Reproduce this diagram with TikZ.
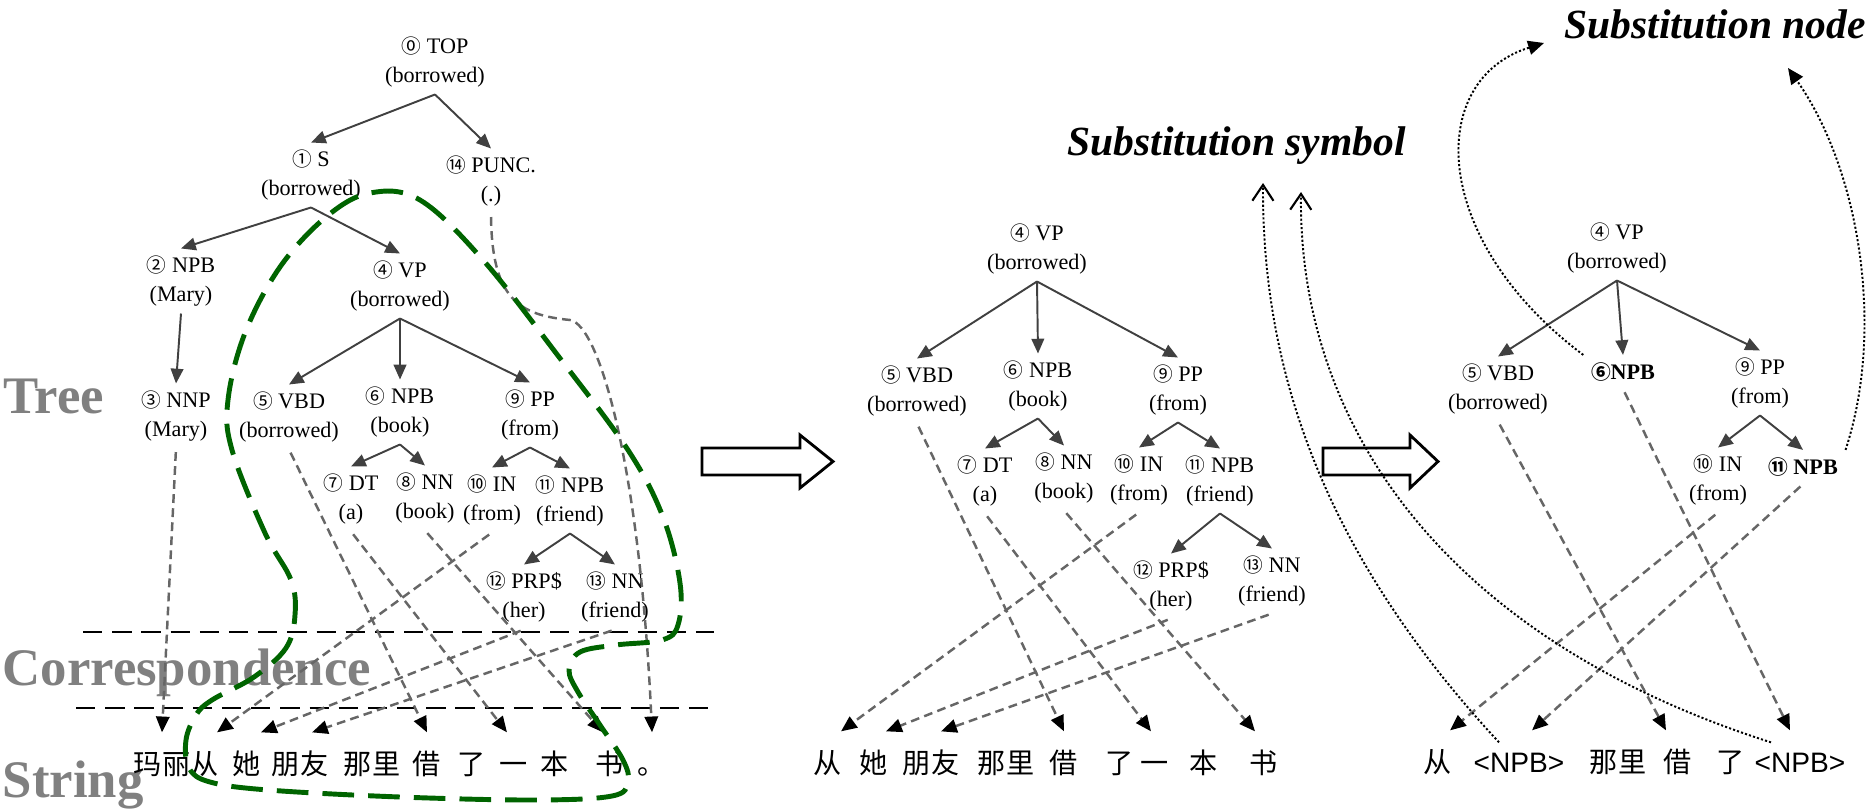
\documentclass[tikz,border=0pt]{standalone}
\usepackage{fontspec}
\setmainfont{Liberation Serif}
\newfontfamily\cjkfont{Noto Sans CJK SC}
\newfontfamily\symfont{Liberation Sans}
\usepackage{xcolor}
\usepackage{tikz}
\usetikzlibrary{arrows.meta}
\definecolor{blobgreen}{RGB}{0,100,0}
\definecolor{labelgray}{RGB}{128,128,128}
\newcommand{\cn}[1]{{\cjkfont\fontsize{5.6}{8}\selectfont #1}}

\tikzstyle{tnode} = [font=\fontsize{6.3}{8}\selectfont, align=center, inner sep=2pt]
\tikzstyle{word} = [font=\cjkfont\fontsize{8}{8}\selectfont, inner xsep=0pt, inner ysep=5.15pt, text height=6.5pt, text depth=0.8pt]
\tikzstyle{branch} = [draw=black!75, line width=0.55pt, -{Triangle[length=4.2pt,width=3.6pt]}]
\tikzstyle{link} = [draw=black!60, line width=0.7pt, dash pattern=on 2.5pt off 1.5pt, shorten <=1pt, -{Triangle[length=4.5pt,width=3.8pt,color=black,fill=black]}]
\tikzstyle{subst} = [line width=0.55pt, dash pattern=on 0.6pt off 0.6pt]
\tikzstyle{rowlabel} = [font=\fontsize{15}{15}\selectfont\bfseries, text=labelgray, anchor=base west, inner sep=0pt]
\tikzstyle{callout} = [font=\fontsize{11.8}{12}\selectfont\bfseries\itshape, anchor=base west, inner sep=0pt]

\begin{document}
\begin{tikzpicture}[x=0.01cm, y=-0.01cm]
\useasboundingbox (0,0) rectangle (1876,809);

% Row labels
\node[rowlabel] (ltree) at (3,413) {Tree};
\node[rowlabel] (lcorr) at (2,685) {Correspondence};
\node[rowlabel] (lstring) at (2,797) {String};
\draw[line width=0.7pt, dash pattern=on 5.5pt off 2.8pt] (83,632) -- (714,632);
\draw[line width=0.7pt, dash pattern=on 5.5pt off 2.8pt] (76,708) -- (714,708);

% Left tree
\node[tnode] (top) at (435,62) {\cn{⓪} TOP\\(borrowed)};
\node[tnode] (s) at (311,175) {\cn{①} S\\(borrowed)};
\node[tnode] (punc) at (491,181) {\cn{⑭} PUNC.\\(.)};
\node[tnode] (npbA) at (181,281) {\cn{②} NPB\\(Mary)};
\node[tnode] (vpA) at (400,286) {\cn{④} VP\\(borrowed)};
\node[tnode] (nnp) at (176,416) {\cn{③} NNP\\(Mary)};
\node[tnode] (vbdA) at (289,417) {\cn{⑤} VBD\\(borrowed)};
\node[tnode] (npbB) at (400,412) {\cn{⑥} NPB\\(book)};
\node[tnode] (ppA) at (530,415) {\cn{⑨} PP\\(from)};
\node[tnode] (dtA) at (351,499) {\cn{⑦} DT\\(a)};
\node[tnode] (nnA) at (425,498) {\cn{⑧} NN\\(book)};
\node[tnode] (inA) at (492,500) {\cn{⑩} IN\\(from)};
\node[tnode] (npbC) at (570,501) {\cn{⑪} NPB\\(friend)};
\node[tnode] (prpA) at (524,597) {\cn{⑫} PRP\$\\(her)};
\node[tnode] (nnB) at (615,597) {\cn{⑬} NN\\(friend)};

\foreach \p/\c in {top/s, top/punc, s/npbA, s/vpA, npbA/nnp, vpA/vbdA, vpA/npbB, vpA/ppA,
                   npbB/dtA, npbB/nnA, ppA/inA, ppA/npbC, npbC/prpA, npbC/nnB}
  \draw[branch] (\p.south) -- (\c.north);

% Left string
\node[word] (lml) at (162,764) {玛丽};
\node[word] (lcong) at (205,764) {从};
\node[word] (lta) at (247,764) {她};
\node[word] (lpy) at (300,764) {朋友};
\node[word] (lnl) at (372,764) {那里};
\node[word] (ljie) at (427,764) {借};
\node[word] (lle) at (472,764) {了};
\node[word] (lyi) at (514,764) {一};
\node[word] (lben) at (555,764) {本};
\node[word] (lshu) at (610,764) {书};
\node[word] (ldot) at (652,764) {。};

\draw[link] (nnp.south) -- (lml.north);
\draw[link] (vbdA.south) -- (ljie.north);
\draw[link] (dtA.south) -- ([xshift=-0.07cm]lyi.north);
\draw[link] (nnA.south) -- ([xshift=-0.07cm]lshu.north);
\draw[link] (inA.south) -- ([xshift=0.12cm]lcong.north);
\draw[link] (prpA.south) -- ([xshift=0.14cm]lta.north);
\draw[link] (nnB.south) -- ([xshift=0.12cm]lpy.north);
\draw[link] (punc.south) .. controls (492,300) and (520,315) .. (570,320)
            .. controls (600,325) and (640,470) .. (ldot.north);

% Extracted rule region
\draw[blobgreen, line width=1.4pt, dash pattern=on 9pt off 4pt]
  plot[smooth cycle, tension=0.6] coordinates {
  (370,193) (420,200) (483,260) (559,357) (628,450) (663,517) (680,583) (678,625)
  (662,640) (616,645) (580,652) (569,670) (578,692) (600,725) (623,760) (628,782)
  (612,796) (536,800) (400,797) (268,790) (210,782) (189,768) (186,740) (196,715)
  (212,700) (254,677) (286,648) (295,615) (291,580) (265,533) (232,450) (228,400)
  (245,333) (280,267) (326,217)};

% Hollow arrows
\foreach \x/\b/\h in {702/98/131, 1323/87/115}
  \draw[line width=0.8pt, fill=white] (\x,448) -- ({\x+\b},448) -- ({\x+\b},435) -- ({\x+\h},461.5)
    -- ({\x+\b},488) -- ({\x+\b},475) -- (\x,475) -- cycle;

% Middle tree
\node[tnode] (mvp) at (1037,249) {\cn{④} VP\\(borrowed)};
\node[tnode] (mvbd) at (917,391) {\cn{⑤} VBD\\(borrowed)};
\node[tnode] (mnpb) at (1038,386) {\cn{⑥} NPB\\(book)};
\node[tnode] (mpp) at (1178,390) {\cn{⑨} PP\\(from)};
\node[tnode] (mdt) at (985,481) {\cn{⑦} DT\\(a)};
\node[tnode] (mnn) at (1064,478) {\cn{⑧} NN\\(book)};
\node[tnode] (min) at (1139,480) {\cn{⑩} IN\\(from)};
\node[tnode] (mnpb2) at (1220,481) {\cn{⑪} NPB\\(friend)};
\node[tnode] (mprp) at (1171,586) {\cn{⑫} PRP\$\\(her)};
\node[tnode] (mnn2) at (1272,581) {\cn{⑬} NN\\(friend)};

\foreach \p/\c in {mvp/mvbd, mvp/mnpb, mvp/mpp, mnpb/mdt, mnpb/mnn, mpp/min, mpp/mnpb2,
                   mnpb2/mprp, mnpb2/mnn2}
  \draw[branch] (\p.south) -- (\c.north);

\node[word] (mcong) at (828,763) {从};
\node[word] (mta) at (874,763) {她};
\node[word] (mpy) at (931,763) {朋友};
\node[word] (mnl) at (1006,763) {那里};
\node[word] (mjie) at (1064,763) {借};
\node[word] (mle) at (1120,763) {了};
\node[word] (myi) at (1155,763) {一};
\node[word] (mben) at (1204,763) {本};
\node[word] (mshu) at (1264,763) {书};

\draw[link] (mvbd.south) -- (mjie.north);
\draw[link] (mdt.south) -- ([xshift=-0.04cm]myi.north);
\draw[link] (mnn.south) -- ([xshift=-0.09cm]mshu.north);
\draw[link] (min.south) -- ([xshift=0.13cm]mcong.north);
\draw[link] (mprp.south) -- ([xshift=0.12cm]mta.north);
\draw[link] (mnn2.south) -- ([xshift=0.10cm]mpy.north);

% Right tree
\node[tnode] (rvp) at (1617,248) {\cn{④} VP\\(borrowed)};
\node[tnode] (rvbd) at (1498,389) {\cn{⑤} VBD\\(borrowed)};
\node[tnode] (rnpb) at (1623,372) {\textbf{\cn{⑥}NPB}};
\node[tnode] (rpp) at (1760,383) {\cn{⑨} PP\\(from)};
\node[tnode] (rin) at (1718,480) {\cn{⑩} IN\\(from)};
\node[tnode] (rnpb2) at (1803,467) {\textbf{\cn{⑪} NPB}};

\foreach \p/\c in {rvp/rvbd, rvp/rnpb, rvp/rpp, rpp/rin, rpp/rnpb2}
  \draw[branch] (\p.south) -- (\c.north);

\node[word] (rcong) at (1438,762) {从};
\node[word] (rnpbA) at (1519,762) {\symfont <NPB>};
\node[word] (rnl) at (1618,762) {那里};
\node[word] (rjie) at (1678,762) {借};
\node[word] (rle) at (1731,762) {了};
\node[word] (rnpbB) at (1800,762) {\symfont <NPB>};

\draw[link] (rvbd.south) -- ([xshift=-0.12cm]rjie.north);
\draw[link] (rnpb.south) -- ([xshift=-0.10cm]rnpbB.north);
\draw[link] (rin.south) -- ([xshift=0.12cm]rcong.north);
\draw[link] (rnpb2.south) -- ([xshift=0.13cm]rnpbA.north);

% Callouts
\node[callout] (subsym) at (1067,155) {Substitution symbol};
\node[callout] (subnode) at (1564,38) {Substitution node};
\coordinate (symtipA) at (1263,183);
\coordinate (symtipB) at (1301,192);
\coordinate (nodetipA) at (1544,43);
\coordinate (nodetipB) at (1788,68);

\draw[subst, -{Straight Barb[length=4.5pt,width=6pt,line width=0.6pt]}]
  ([xshift=-0.2cm,yshift=-0.12cm]rnpbA.north) .. controls (1330,560) and (1262,380) .. (symtipA);
\draw[subst, -{Straight Barb[length=4.5pt,width=6pt,line width=0.6pt]}]
  ([xshift=-0.29cm,yshift=-0.12cm]rnpbB.north) .. controls (1450,640) and (1298,430) .. (symtipB);
\draw[subst, -{Triangle[length=4.5pt,width=4pt]}]
  (rnpb.north west) .. controls (1430,240) and (1425,80) .. (nodetipA);
\draw[subst, -{Triangle[length=4.5pt,width=4pt]}]
  (rnpb2.north east) .. controls (1885,330) and (1860,170) .. (nodetipB);
\end{tikzpicture}
\end{document}
